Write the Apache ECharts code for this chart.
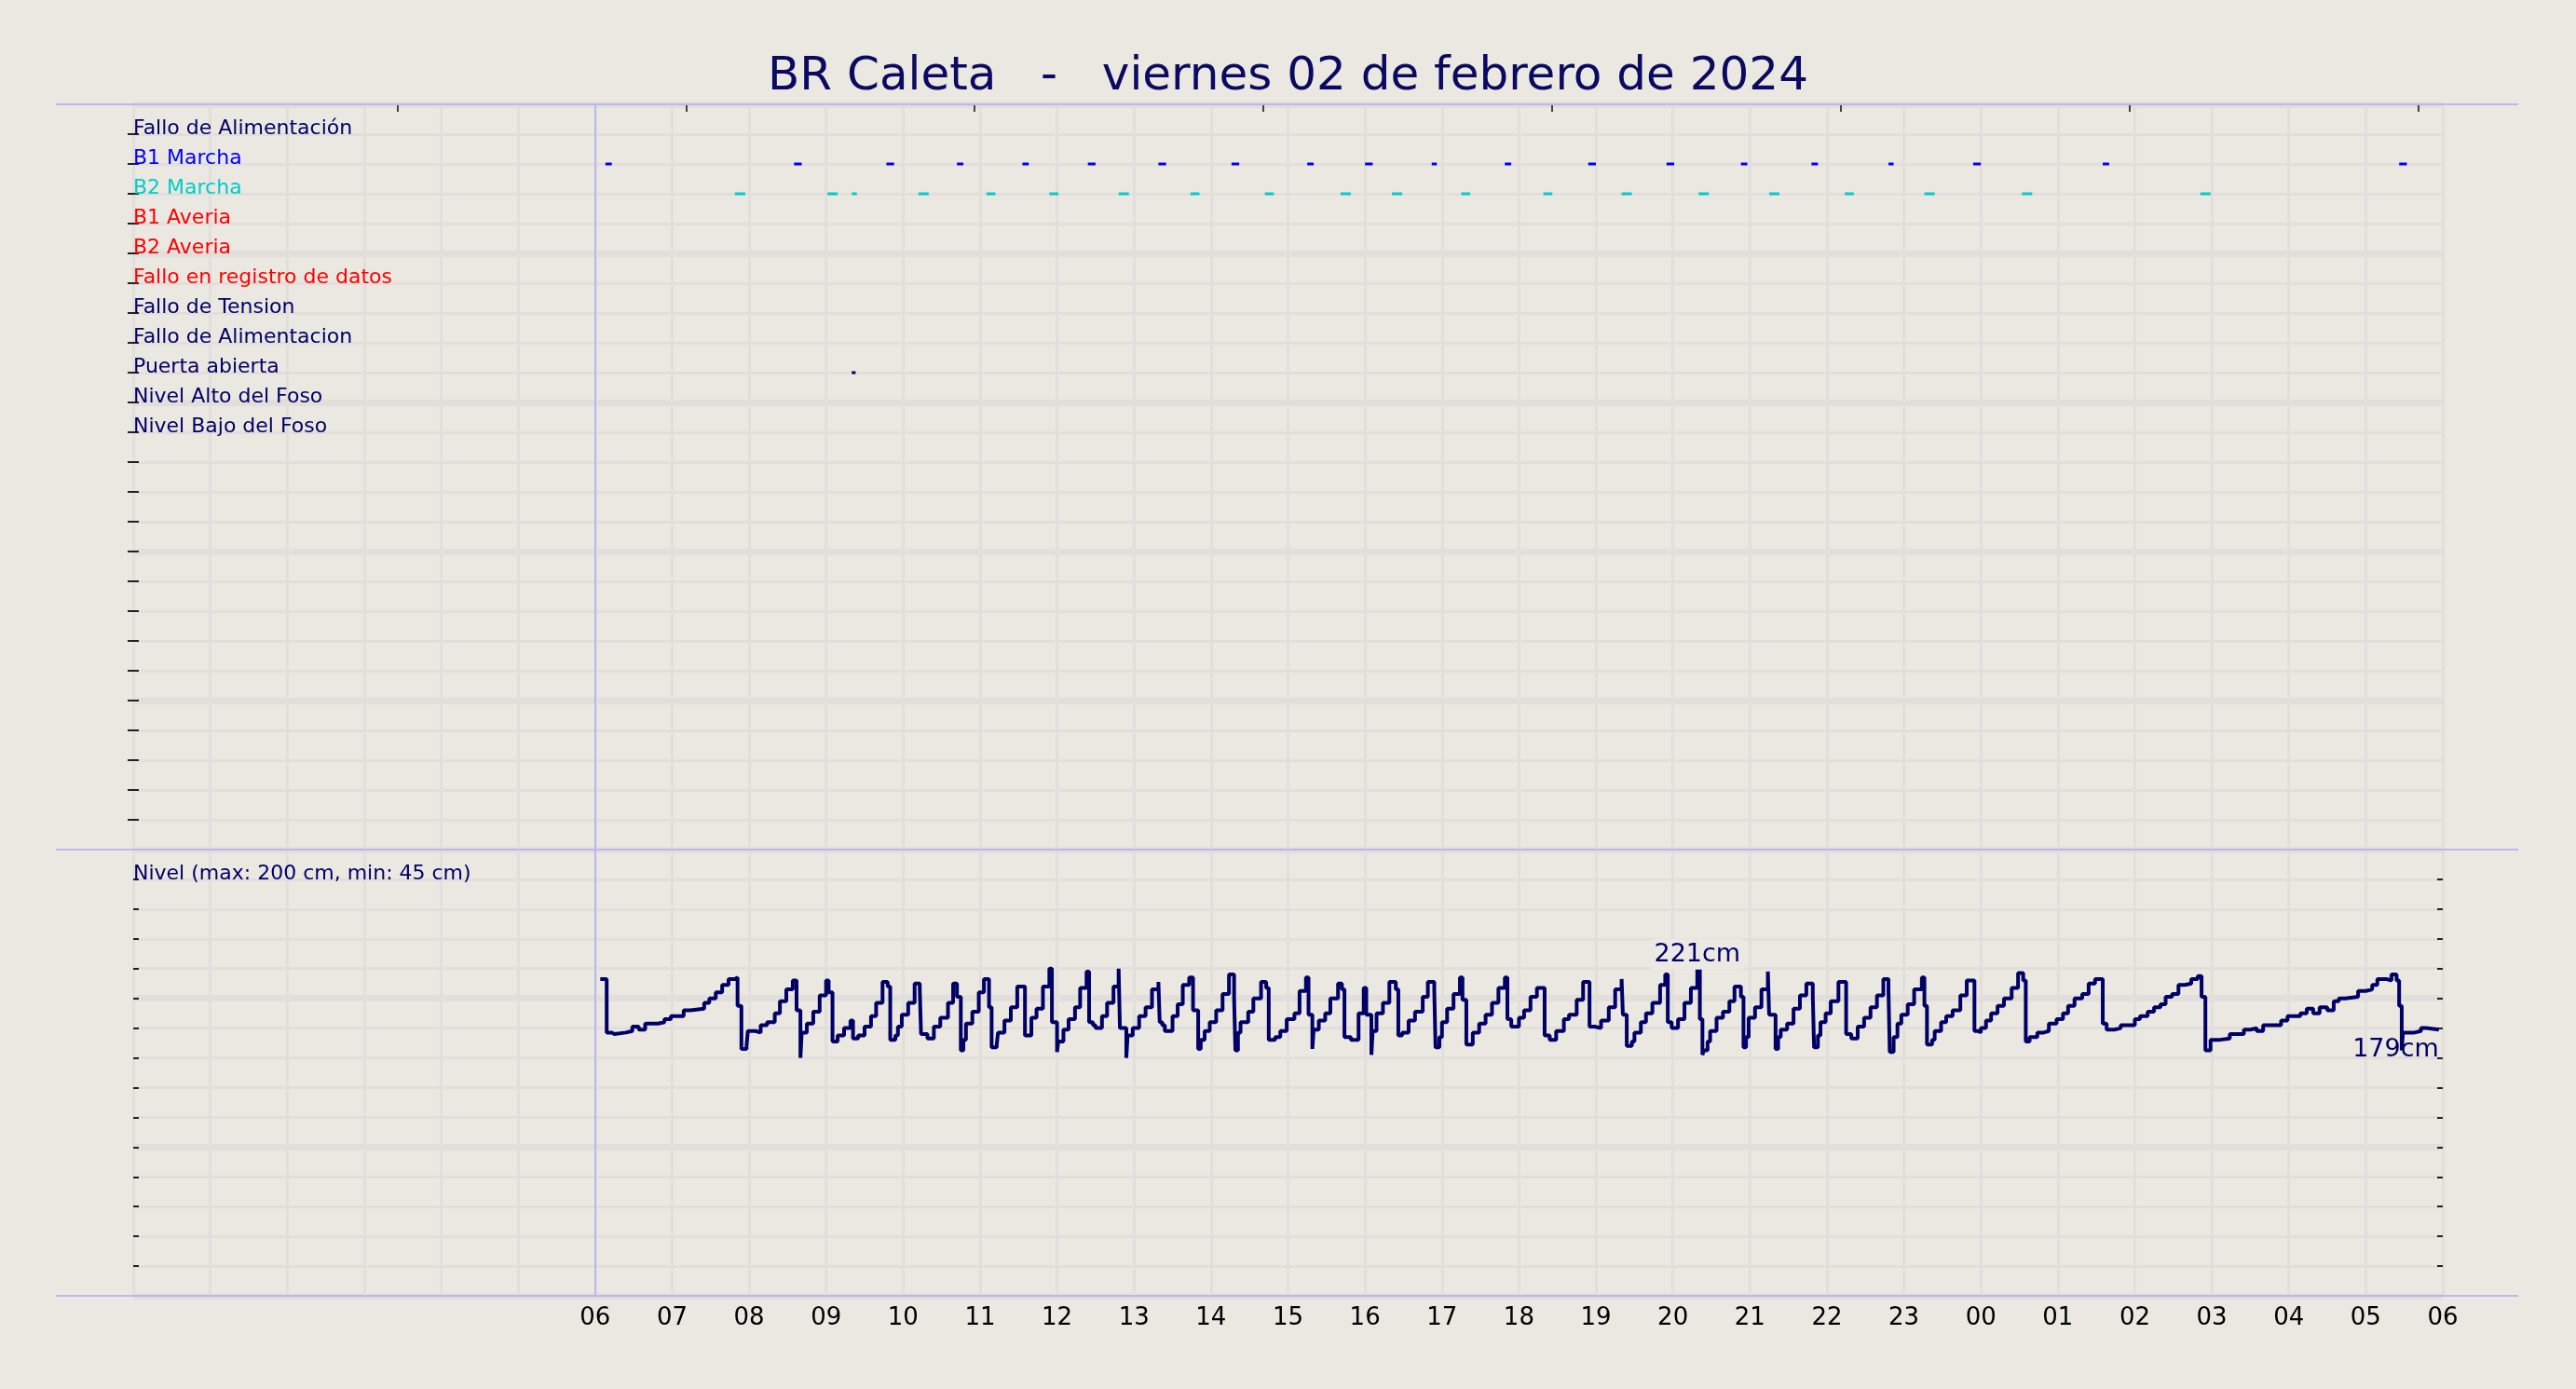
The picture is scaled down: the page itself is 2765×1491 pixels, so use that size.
<!DOCTYPE html>
<html>
<head>
<meta charset="utf-8">
<script src="https://cdn.jsdelivr.net/npm/echarts@6/dist/echarts.min.js"></script>
<style>
  html, body { margin: 0; padding: 0; background: #ebe7e1; }
  #main { width: 2765px; height: 1491px; }
</style>
</head>
<body>
<div id="main"></div>
<script>
var titleText = 'BR Caleta   -   viernes 02 de febrero de 2024';

// event rows of the upper panel (row 1 = first label)
var rowLabels = ['Fallo de Alimentación', 'B1 Marcha', 'B2 Marcha', 'B1 Averia', 'B2 Averia',
	'Fallo en registro de datos', 'Fallo de Tension', 'Fallo de Alimentacion', 'Puerta abierta',
	'Nivel Alto del Foso', 'Nivel Bajo del Foso'];
var rowColors = ['#000066', '#0000ff', '#00cccc', '#ff0000', '#ff0000',
	'#ff0000', '#000066', '#000066', '#000066', '#000066', '#000066'];

var nivelLabel = 'Nivel (max: 200 cm, min: 45 cm)';

// start hour of the day shown, and hour ticks on top edge
var startHour = 6;
var topTicks = [3.43, 7.18, 10.93, 14.68, 18.43, 22.18, 25.93, 29.68];

// pump runs, minutes after 06:00
var b1Start = [8, 155, 227, 282, 333, 384, 439, 496, 555, 600, 652, 709, 774, 835, 893, 948, 1008, 1074, 1175, 1406];
var b1End   = [13, 161, 233, 287, 338, 390, 445, 502, 560, 606, 656, 714, 780, 841, 898, 953, 1012, 1080, 1180, 1412];
var b2Start = [109, 181, 200, 252, 305, 354, 408, 464, 522, 581, 621, 675, 739, 800, 860, 915, 974, 1036, 1112, 1251];
var b2End   = [117, 189, 204, 260, 312, 361, 416, 471, 529, 589, 629, 682, 746, 808, 868, 923, 981, 1044, 1120, 1259];
var doorStart = [200];
var doorEnd   = [203];

// pit level (cm), minutes after 06:00 where the value changes
var levelMin = [4, 9, 13, 15, 24, 29, 34, 39, 49, 54, 59, 69, 74, 85, 89, 94, 99, 104, 109, 111,
	114, 118, 119, 125, 129, 134, 140, 144, 149, 154, 157, 160, 161, 165, 170, 175, 180, 182, 185, 189,
	194, 199, 201, 205, 210, 215, 219, 224, 228, 230, 234, 236, 239, 244, 249, 253, 254, 259, 264, 269,
	275, 279, 282, 285, 287, 289, 294, 299, 303, 307, 309, 313, 314, 319, 324, 329, 335, 340, 344, 349,
	354, 356, 360, 361, 365, 369, 374, 378, 383, 385, 388, 390, 395, 399, 404, 408, 409, 414, 415, 419,
	424, 429, 434, 439, 440, 442, 444, 450, 454, 458, 463, 466, 470, 472, 475, 479, 484, 489, 494, 498,
	499, 501, 503, 509, 513, 519, 523, 525, 530, 534, 539, 545, 549, 554, 556, 559, 560, 564, 569, 573,
	579, 582, 584, 589, 595, 599, 601, 605, 606, 609, 614, 619, 624, 626, 629, 634, 639, 645, 649, 654,
	655, 658, 660, 664, 669, 674, 676, 679, 684, 689, 694, 699, 704, 709, 711, 714, 720, 724, 729, 734,
	740, 744, 749, 755, 759, 765, 770, 775, 779, 784, 790, 795, 800, 801, 804, 808, 810, 815, 819, 824,
	830, 834, 836, 839, 844, 849, 854, 859, 861, 863, 864, 867, 869, 874, 879, 884, 888, 893, 895, 897,
	899, 904, 909, 914, 915, 920, 922, 924, 929, 934, 939, 944, 949, 950, 953, 955, 959, 963, 969, 975,
	979, 984, 989, 994, 999, 1004, 1008, 1009, 1012, 1015, 1018, 1023, 1028, 1034, 1036, 1038, 1042, 1044, 1049, 1053,
	1058, 1064, 1069, 1075, 1078, 1080, 1084, 1088, 1093, 1098, 1104, 1109, 1113, 1115, 1118, 1124, 1129, 1133, 1139, 1144,
	1148, 1153, 1159, 1164, 1169, 1175, 1178, 1184, 1189, 1200, 1204, 1210, 1215, 1220, 1224, 1229, 1234, 1239, 1244, 1249,
	1252, 1255, 1259, 1265, 1274, 1285, 1290, 1295, 1300, 1314, 1319, 1329, 1334, 1339, 1344, 1350, 1355, 1359, 1364, 1374,
	1380, 1385, 1389, 1396, 1400, 1404, 1406, 1408, 1409, 1418, 1423, 1427, 1437];
var levelCm = [213, 177, 176, 177, 178, 181, 179, 183, 184, 186, 188, 192, 193, 197, 200, 204, 209, 213, 214, 195,
	166, 168, 178, 177, 182, 184, 190, 198, 206, 212, 192, 160, 177, 183, 191, 202, 212, 204, 171, 175,
	180, 185, 173, 175, 181, 188, 197, 211, 208, 172, 175, 181, 189, 197, 210, 207, 176, 173, 181, 187,
	197, 210, 201, 165, 172, 183, 191, 204, 213, 194, 167, 169, 177, 185, 194, 208, 175, 187, 193, 208,
	220, 184, 164, 171, 179, 186, 194, 207, 218, 184, 182, 180, 188, 197, 208, 220, 180, 160, 175, 180,
	188, 194, 206, 211, 184, 182, 178, 188, 196, 209, 214, 192, 166, 172, 178, 184, 192, 203, 216, 200,
	165, 177, 184, 191, 200, 211, 207, 172, 174, 178, 186, 190, 205, 214, 189, 166, 179, 185, 190, 200,
	210, 206, 174, 172, 190, 207, 189, 162, 178, 190, 197, 211, 206, 175, 177, 185, 191, 201, 211, 205,
	167, 174, 184, 193, 203, 214, 199, 169, 177, 183, 189, 197, 207, 214, 186, 181, 187, 192, 201, 207,
	175, 172, 178, 186, 189, 199, 211, 181, 180, 185, 194, 206, 213, 189, 168, 171, 177, 184, 190, 197,
	209, 216, 184, 180, 186, 197, 207, 221, 186, 162, 165, 171, 178, 187, 191, 198, 208, 201, 167, 174,
	187, 194, 206, 218, 189, 166, 174, 179, 183, 193, 202, 210, 202, 167, 175, 184, 190, 198, 211, 176,
	173, 181, 187, 194, 202, 213, 205, 164, 174, 183, 189, 196, 206, 214, 195, 169, 172, 178, 184, 188,
	192, 202, 212, 178, 177, 180, 185, 190, 195, 200, 207, 217, 212, 171, 174, 177, 178, 183, 186, 190,
	195, 200, 203, 210, 213, 183, 179, 180, 182, 186, 188, 191, 194, 196, 201, 203, 209, 210, 213, 215,
	201, 165, 172, 173, 176, 179, 180, 178, 182, 185, 188, 190, 193, 190, 194, 192, 198, 200, 201, 205,
	206, 209, 213, 212, 216, 212, 195, 165, 177, 178, 180, 179, 179];

var navy = '#000066';
var lavender = '#b9b9f2';
var gridColor = '#e2dedb';
var font = 'DejaVu Sans';

function hourOf(m) { return startHour + m / 60; }
function pad(n) { return (n < 10 ? '0' : '') + n; }

var levelData = levelMin.map(function(m, i) { return [hourOf(m), levelCm[i]]; });
function events(starts, ends, row) {
	return starts.map(function(s, i) { return [hourOf(s), hourOf(ends[i]), row]; });
}

var iMax = levelCm.indexOf(Math.max.apply(null, levelCm));
var iLast = levelCm.length - 1;

function renderEvent(params, api) {
	var p0 = api.coord([api.value(0), api.value(2)]);
	var p1 = api.coord([api.value(1), api.value(2)]);
	return {
		type: 'rect',
		shape: { x: p0[0], y: p0[1] - 1.5, width: Math.max(p1[0] - p0[0], 3), height: 3 },
		style: { fill: api.visual('color') }
	};
}

var chartDom = document.getElementById('main');
var myChart = echarts.init(chartDom);

var thinSplit = { show: true, lineStyle: { color: gridColor, width: 3 } };
var thickSplit = { show: true, lineStyle: { color: gridColor, width: 7 } };
var tickIn = { show: true, inside: true, length: 6, lineStyle: { color: '#222', width: 2 } };

var option = {
	backgroundColor: '#ebe7e1',
	animation: false,
	title: {
		text: titleText,
		left: 'center',
		top: 53,
		textStyle: { fontFamily: font, fontSize: 50, fontWeight: 'normal', color: '#0a0a60' }
	},
	grid: [
		{ left: 143, right: 143, top: 112, height: 800 },
		{ left: 143, right: 143, top: 912, height: 479 }
	],
	xAxis: [
		{
			type: 'value', gridIndex: 0, min: 0, max: 30, interval: 1,
			axisLine: { show: false }, axisTick: { show: false }, axisLabel: { show: false },
			splitLine: thinSplit
		},
		{
			type: 'value', gridIndex: 0, position: 'top', min: 0, max: 30,
			axisLine: { show: false }, axisLabel: { show: false }, splitLine: { show: false },
			axisTick: { show: true, inside: true, length: 8, customValues: topTicks,
				lineStyle: { color: '#444', width: 2 } }
		},
		{
			type: 'value', gridIndex: 1, min: 0, max: 30, interval: 1,
			axisLine: { show: false }, axisTick: { show: false },
			axisLabel: {
				margin: 11, fontFamily: font, fontSize: 26, color: '#000',
				formatter: function(v) { return v >= startHour ? pad(v % 24) : ''; }
			},
			splitLine: thinSplit
		}
	],
	yAxis: [
		{
			type: 'value', gridIndex: 0, min: 0, max: 25, interval: 1, inverse: true,
			axisLine: { show: false }, axisTick: tickIn,
			axisLabel: {
				inside: true, margin: 0, fontFamily: font, fontSize: 22, lineHeight: 11,
				verticalAlign: 'bottom', align: 'left',
				formatter: function(v) { return rowLabels[v - 1] || ''; },
				color: function(v) { return rowColors[Number(v) - 1] || navy; }
			},
			splitLine: thinSplit
		},
		{
			type: 'value', gridIndex: 0, position: 'right', min: 0, max: 25, interval: 1, inverse: true,
			axisLine: { show: false }, axisTick: tickIn, axisLabel: { show: false }, splitLine: { show: false }
		},
		{
			type: 'value', gridIndex: 0, position: 'left', min: 0, max: 25, interval: 5, inverse: true,
			axisLine: { show: false }, axisTick: { show: false }, axisLabel: { show: false },
			splitLine: thickSplit
		},
		{
			type: 'value', gridIndex: 1, min: 0, max: 300, interval: 20,
			axisLine: { show: false }, axisTick: tickIn,
			axisLabel: {
				inside: true, margin: 0, fontFamily: font, fontSize: 22, lineHeight: 11,
				verticalAlign: 'bottom', align: 'left', color: navy,
				formatter: function(v) { return v === 280 ? nivelLabel : ''; }
			},
			splitLine: thinSplit
		},
		{
			type: 'value', gridIndex: 1, position: 'right', min: 0, max: 300, interval: 20,
			axisLine: { show: false }, axisTick: tickIn, axisLabel: { show: false }, splitLine: { show: false }
		},
		{
			type: 'value', gridIndex: 1, position: 'left', min: 0, max: 300, interval: 100,
			axisLine: { show: false }, axisTick: { show: false }, axisLabel: { show: false },
			splitLine: thickSplit
		}
	],
	series: [
		{
			name: 'B1 Marcha', type: 'custom', xAxisIndex: 0, yAxisIndex: 0,
			renderItem: renderEvent, itemStyle: { color: '#0000ff' },
			encode: { x: [0, 1], y: 2 },
			data: events(b1Start, b1End, 2),
			markLine: {
				silent: true, symbol: 'none', label: { show: false },
				lineStyle: { color: lavender, width: 2, type: 'solid' },
				data: [{ xAxis: startHour }]
			}
		},
		{
			name: 'B2 Marcha', type: 'custom', xAxisIndex: 0, yAxisIndex: 0,
			renderItem: renderEvent, itemStyle: { color: '#00cccc' },
			encode: { x: [0, 1], y: 2 },
			data: events(b2Start, b2End, 3)
		},
		{
			name: 'Puerta abierta', type: 'custom', xAxisIndex: 0, yAxisIndex: 0,
			renderItem: renderEvent, itemStyle: { color: navy },
			encode: { x: [0, 1], y: 2 },
			data: events(doorStart, doorEnd, 9)
		},
		{
			name: 'Nivel', type: 'line', xAxisIndex: 2, yAxisIndex: 3,
			step: 'end', showSymbol: false,
			lineStyle: { color: navy, width: 4 },
			itemStyle: { color: navy },
			data: levelData,
			markLine: {
				silent: true, symbol: 'none', label: { show: false },
				lineStyle: { color: lavender, width: 2, type: 'solid' },
				data: [{ xAxis: startHour }]
			},
			markPoint: {
				symbol: 'rect', symbolSize: 1,
				itemStyle: { color: 'rgba(0,0,0,0)' },
				data: [
					{
						coord: levelData[iMax], value: levelCm[iMax],
						label: {
							show: true, position: 'top', distance: -3,
							fontFamily: font, fontSize: 27, color: navy,
							backgroundColor: '#ece9e5', borderRadius: 6, padding: [4, 6, 2, 6],
							formatter: function(p) { return p.value + 'cm'; }
						}
					},
					{
						coord: levelData[iLast], value: levelCm[iLast],
						label: {
							show: true, position: 'bottom', align: 'right', distance: 8,
							fontFamily: font, fontSize: 27, color: navy,
							formatter: function(p) { return p.value + 'cm'; }
						}
					}
				]
			}
		}
	],
	graphic: [
		{ type: 'line', z: 100, shape: { x1: 60, y1: 112, x2: 2703, y2: 112 }, style: { stroke: lavender, lineWidth: 2 } },
		{ type: 'line', z: 100, shape: { x1: 60, y1: 912, x2: 2703, y2: 912 }, style: { stroke: lavender, lineWidth: 2 } },
		{ type: 'line', z: 100, shape: { x1: 60, y1: 1391, x2: 2703, y2: 1391 }, style: { stroke: lavender, lineWidth: 2 } }
	]
};

myChart.setOption(option);
</script>
</body>
</html>
